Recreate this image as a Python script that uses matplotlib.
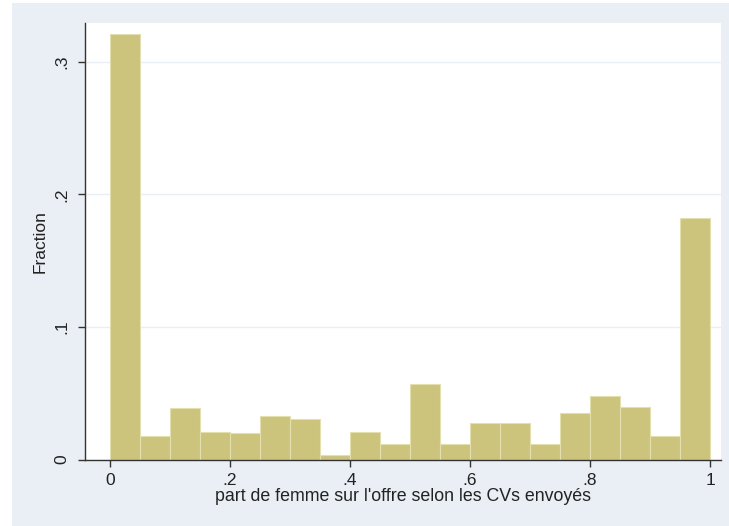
import matplotlib
matplotlib.use('Agg')
import matplotlib.pyplot as plt
from matplotlib.patches import Rectangle

# Histogram data (bin width 0.05)
bin_left = [0.00, 0.05, 0.10, 0.15, 0.20, 0.25, 0.30, 0.35, 0.40, 0.45,
            0.50, 0.55, 0.60, 0.65, 0.70, 0.75, 0.80, 0.85, 0.90, 0.95]
fractions = [0.321, 0.018, 0.0387, 0.0208, 0.0198, 0.033, 0.0308, 0.0034, 0.0208, 0.0115,
             0.057, 0.0115, 0.0273, 0.0273, 0.0115, 0.0353, 0.048, 0.0399, 0.018, 0.182]
bin_width = 0.05
xtick_values = [0, 0.2, 0.4, 0.6, 0.8, 1.0]
xtick_labels = ['0', '.2', '.4', '.6', '.8', '1']
ytick_values = [0, 0.1, 0.2, 0.3]
ytick_labels = ['0', '.1', '.2', '.3']
xlabel = "part de femme sur l'offre selon les CVs envoyés"
ylabel = "Fraction"

plt.rcParams['font.family'] = ['Liberation Sans Narrow', 'Liberation Sans', 'DejaVu Sans']

W, H = 729, 526
fig = plt.figure(figsize=(W / 100, H / 100), dpi=100, facecolor='white')
bg = Rectangle((12 / W, 0), (W - 12) / W, (H - 3) / H,
               transform=fig.transFigure, facecolor='#EAEFF5',
               edgecolor='none', zorder=-10)
fig.patches.append(bg)

ax = fig.add_axes([85 / W, 1 - 459.5 / H, (721 - 85) / W, (459.5 - 23) / H])
ax.set_zorder(1)
ax.set_facecolor('white')
ax.bar(bin_left, fractions, width=bin_width, align='edge',
       color='#CCC47C', edgecolor='#E3DFAE', linewidth=0.8, zorder=2)
ax.set_xlim(-0.0417, 1.0183)
ax.set_ylim(0, 0.3294)

for s in ['top', 'right']:
    ax.spines[s].set_visible(False)
for s in ['left', 'bottom']:
    ax.spines[s].set_color('#333333')
    ax.spines[s].set_linewidth(1.0)
    ax.spines[s].set_zorder(3)

ax.yaxis.grid(True, color='#EAEFF5', linewidth=1.0)
ax.set_axisbelow(True)

ax.set_xticks(xtick_values)
ax.set_xticklabels(xtick_labels)
ax.set_yticks(ytick_values)
ax.set_yticklabels(ytick_labels, rotation=90, va='center')
ax.tick_params(direction='out', length=5, width=1, colors='#333333',
               labelcolor='#222222', labelsize=12.5)
ax.tick_params(axis='x', pad=5)
ax.tick_params(axis='y', pad=6)

ax.set_xlabel(xlabel, fontsize=12.8, color='#222222', labelpad=0)
ax.set_ylabel(ylabel, fontsize=12.5, color='#222222', labelpad=5)

fig.savefig('out.png', dpi=100, facecolor=fig.get_facecolor())
